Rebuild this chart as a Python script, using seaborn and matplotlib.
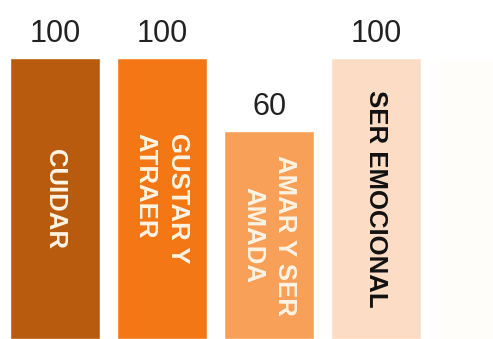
import matplotlib
matplotlib.use("Agg")
import matplotlib.pyplot as plt
import seaborn as sns
import pandas as pd

categories = ["CUIDAR", "GUSTAR Y\nATRAER", "AMAR Y SER\nAMADA", "SER EMOCIONAL", ""]
values = [100, 100, 60, 100, 100]
value_labels = ["100", "100", "60", "100", ""]
colors = ["#B95B0E", "#F37714", "#F9A058", "#FDDCC5", "#FFFDFA"]
text_colors = ["#FFF4E4", "#FFF4E4", "#FFF4E4", "#111111", "#FFFFFF"]
align = ["center", "left", "center", "center", "center"]

# the original chart's baseline lies below the visible (cropped) area
BASE = 54
TOP = 131.8

df = pd.DataFrame({"cat": categories, "val": values})
df["shown"] = df["val"] + BASE

sns.set_style("white")
plt.rcParams["font.family"] = ["Liberation Sans", "DejaVu Sans"]

fig = plt.figure(figsize=(4.93, 3.39), dpi=100)
ax = fig.add_axes([0, 0, 1, 1])
sns.barplot(data=df, x="cat", y="shown", hue="cat", palette=colors,
            width=0.84, legend=False, ax=ax, saturation=1)
ax.set_xlim(-0.514, 4.09)
ax.set_ylim(0, TOP + BASE)
ax.axis("off")

for i, (h, lab, cat) in enumerate(zip(df["shown"], value_labels, categories)):
    if lab:
        ax.annotate(lab, (i, h), xytext=(0, 16), textcoords="offset pixels",
                    ha="center", va="baseline", fontsize=22, color="#222222")
    if cat:
        ax.text(i, h / 2, cat, rotation=-90,
                ha="center", va="center", multialignment=align[i],
                fontsize=18.5, fontweight="bold", color=text_colors[i],
                linespacing=1.45)

fig.savefig("out.png", dpi=100)
